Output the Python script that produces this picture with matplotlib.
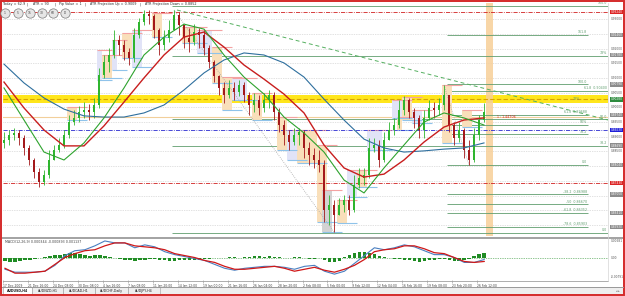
import numpy as np
import matplotlib.pyplot as plt
from matplotlib.patches import Rectangle
from matplotlib.transforms import blended_transform_factory

dates = ["17 Dec 2009", "21 Dec 16:00", "24 Dec 08:00", "30 Dec 08:00", "4 Jan 16:00",
         "7 Jan 08:00", "11 Jan 20:00", "14 Jan 12:00", "19 Jan 00:00", "21 Jan 16:00",
         "26 Jan 04:00", "28 Jan 20:00", "2 Feb 08:00", "5 Feb 00:00", "9 Feb 12:00",
         "12 Feb 04:00", "16 Feb 16:00", "19 Feb 08:00", "23 Feb 20:00", "26 Feb 12:00"]

first_open = 8880
closes = [8889, 8906, 8913, 8896, 8862, 8821, 8780, 8746, 8770, 8821,
          8855, 8872, 8906, 8950, 8964, 8984, 8991, 8984, 9008, 9110,
          9154, 9178, 9229, 9212, 9188, 9168, 9246, 9290, 9317, 9311,
          9263, 9212, 9236, 9263, 9314, 9280, 9236, 9222, 9256, 9246,
          9202, 9154, 9107, 9066, 9042, 9066, 9052, 9076, 9042, 9008,
          9025, 8998, 9025, 9042, 8984, 8940, 8906, 8882, 8906, 8916,
          8862, 8838, 8821, 8804, 8651, 8668, 8634, 8668, 8685, 8651,
          8736, 8760, 8770, 8862, 8872, 8821, 8889, 8923, 8940, 8991,
          9025, 8984, 8964, 8923, 8964, 8998, 8991, 9008, 9042, 8940,
          8896, 8923, 8855, 8821, 8906, 8957, 8984]
highs = [8916, 8923, 8930, 8923, 8906, 8872, 8828, 8794, 8787, 8855,
         8872, 8896, 8923, 8974, 8991, 9005, 9018, 9011, 9032, 9134,
         9178, 9202, 9263, 9246, 9229, 9202, 9270, 9304, 9331, 9331,
         9317, 9270, 9263, 9297, 9331, 9324, 9280, 9270, 9283, 9270,
         9263, 9212, 9161, 9110, 9086, 9093, 9086, 9093, 9086, 9052,
         9049, 9042, 9049, 9059, 9052, 8998, 8957, 8923, 8930, 8930,
         8923, 8882, 8862, 8855, 8821, 8702, 8685, 8692, 8702, 8702,
         8770, 8794, 8794, 8896, 8896, 8889, 8916, 8950, 8964, 9025,
         9039, 9032, 8998, 8974, 8991, 9025, 9018, 9032, 9076, 9042,
         8950, 8950, 8930, 8889, 8930, 8974, 9015]
lows = [8862, 8872, 8889, 8872, 8838, 8804, 8760, 8729, 8736, 8760,
        8821, 8848, 8862, 8896, 8940, 8950, 8964, 8957, 8964, 8998,
        9100, 9120, 9168, 9178, 9161, 9144, 9154, 9236, 9280, 9283,
        9236, 9178, 9195, 9222, 9263, 9246, 9202, 9188, 9212, 9202,
        9178, 9134, 9086, 9042, 9015, 9032, 9025, 9039, 9018, 8974,
        8984, 8974, 8984, 8998, 8957, 8916, 8872, 8855, 8872, 8872,
        8828, 8804, 8794, 8780, 8610, 8600, 8576, 8634, 8644, 8634,
        8644, 8726, 8736, 8760, 8848, 8797, 8814, 8889, 8906, 8930,
        8974, 8964, 8930, 8896, 8896, 8957, 8964, 8974, 8991, 8916,
        8872, 8882, 8828, 8804, 8814, 8889, 8950]

# moyennes mobiles, un point toutes les 4 bougies
ma_red = [9086, 8998, 8923, 8869, 8869, 8937, 9018, 9100, 9178, 9239, 9256, 9205, 9144,
          9096, 9045, 8981, 8872, 8794, 8763, 8773, 8821, 8882, 8933, 8957, 8964]
ma_green = [9066, 8957, 8848, 8821, 8879, 8964, 9066, 9178, 9239, 9283, 9266, 9178, 9103,
            9045, 8967, 8913, 8848, 8753, 8709, 8794, 8872, 8950, 8981, 8964, 8940]
ma_blue = [9147, 9083, 9032, 8994, 8971, 8967, 8967, 8981, 9008, 9059, 9117, 9161, 9185,
           9178, 9151, 9103, 9028, 8957, 8892, 8862, 8848, 8852, 8858, 8862, 8879]

# MACD en 1e-4, un point toutes les 2 bougies (histogramme : chaque bougie)
macd_main = [-48, -60, -60, -60, -56, -32, 8, 28, 32, 48, 68, 60, 60, 40, 52, 44, 24, 12, 4, -4,
             -12, -28, -44, -52, -44, -40, -36, -36, -40, -48, -36, -32, -56, -68, -56, -24, 8,
             40, 32, 40, 52, 44, 28, 12, 12, 0, -20, -20, -8]
macd_signal = [-44, -64, -64, -60, -56, -28, 0, 16, 28, 32, 48, 60, 60, 48, 44, 40, 32, 16, 8, 0,
               -12, -20, -36, -48, -48, -44, -40, -36, -44, -56, -48, -40, -52, -60, -48, -32,
               -8, 24, 32, 36, 48, 48, 36, 20, 16, 0, -16, -20, -16]
macd_hist = [-16, -20, -20, -16, -12, -8, -4, 0, 4, 8, 12, 12, 16, 20, 20, 16, 12, 8, 12, 12,
             8, 4, 0, -4, -8, -12, -16, -12, -8, -4, -4, -8, -12, -16, -16, -12, -12, -8, -12, -8,
             -4, -4, 0, 0, 0, 4, 4, 0, 4, 4, 8, 8, 4, 8, 4, 4, 0, 0, 4, 4,
             0, -4, -4, 0, -12, -20, -20, -16, 4, 12, 20, 24, 24, 20, 16, 8, 4, 0, -4, -4,
             -8, -12, -16, -20, -16, -12, -8, -4, -4, -12, -16, -16, -12, -4, 8, 16, 20]

# niveaux de fibo / lignes horizontales
fib_a = [8573, 8869, 8959, 9175, 9345]
fib_a_txt = ["0.0", "38.2", "50.0", "78%", "100.0"]
fib_b = [8593, 8641, 8671, 8705, 8804, 8909, 8940, 8974, 9079, 9246]
fib_b_txt = ["-78.6  0.85903", "-61.8  0.86352", "-50  0.86670", "-38.2  0.86988", "0.0",
             "38.2", "50%", "61.8  0.89688", "100.0", "161.8"]
fib_c, fib_c_txt = 9056, "61.8  0.90400"
zone_lo, zone_hi, zone_mid = 9015, 9042, 9028
pale_line = 8967
red_lines = [9324, 8743]
blue_line = 8923
trend_x, trend_p = [35.1, 121.3], [9331, 8957]
zigzag = [(34, 66), (88, 93)]

# boîtes de session : bougie début, bougie fin, bas, haut, type
box_start = [20, 24, 30, 36, 42, 44, 50, 55, 59, 63, 67, 71, 79, 80, 88, 92, 13,
             19, 22, 26, 39, 46, 57, 69, 73, 78, 82, 64]
box_end = [21, 25, 31, 38, 43, 45, 51, 56, 62, 64, 68, 72, 79, 81, 89, 93, 14,
           19, 22, 27, 41, 48, 58, 70, 75, 79, 83, 65]
box_low = [9100, 9168, 9239, 9219, 9083, 8991, 8957, 8855, 8811, 8610, 8607, 8729, 8923, 8957, 8879, 8933, 8957,
           9093, 9127, 9137, 9185, 9025, 8821, 8695, 8855, 8964, 8947, 8576]
box_high = [9178, 9253, 9321, 9273, 9205, 9103, 9049, 8967, 8923, 8872, 8685, 8787, 8967, 9035, 9076, 8991, 9001,
            9195, 9229, 9263, 9263, 9100, 8923, 8787, 8923, 9025, 8991, 8719]
box_kind = ["o"] * 17 + ["b"] * 10 + ["g"]

right_boxes = [(9324, "#dc2424"), (9246, "#8c8c8c"), (9178, "#8c8c8c"), (9079, "#8c8c8c"),
               (9028, "#2e8b3e"), (8974, "#8c8c8c"), (8923, "#1f1fd8"), (8869, "#8c8c8c"),
               (8804, "#8c8c8c"), (8743, "#dc2424"), (8705, "#8c8c8c"), (8641, "#8c8c8c"),
               (8593, "#8c8c8c")]

header = [(3, "Today = 62.9"), (27, "|"), (33, "ATR = 90"), (55, "|"), (59, "Pip Value = 1"),
          (85, "|"), (90, "ATR Projection Up = 0.9009"), (140, "|"), (145, "ATR Projection Down = 0.8852")]
buttons = ["1", "5", "15", "30", "60", "D"]
tabs = ["AUDUSD,H4", "AUDNZD,H1", "AUDCAD,H1", "AUDCHF,Daily", "AUDJPY,H4"]


def P(v):
    return np.asarray(v, dtype=float) / 10000


W, H = 625, 296
fig = plt.figure(figsize=(W / 100, H / 100), dpi=100)
fig.patch.set_facecolor("white")

ax = fig.add_axes([3 / W, 1 - 236 / H, 605 / W, 233 / H])
am = fig.add_axes([3 / W, 1 - 280 / H, 605 / W, 41 / H])
for a in (ax, am):
    a.set_xlim(0.3, 121.3)
    for s in a.spines.values():
        s.set_visible(False)
    a.set_facecolor("white")
ax.set_ylim(0.85626, 0.93548)
am.set_ylim(-0.0092, 0.0076)
ax.set_xticks([])
ax.set_yticks([])
am.set_yticks([])

fs = 2.3
GREEN_FIB = "#5f9d6e"
grid_levels = np.arange(8600, 9301, 50)

# grille pointillée
for g in grid_levels:
    ax.axhline(g / 1e4, color="#c4c4c4", lw=0.5, ls=(0, (1, 1.5)), zorder=0)

# zone jaune + lignes horizontales
ax.axhspan(zone_lo / 1e4, zone_hi / 1e4, color="#ffe61c", zorder=1, lw=0)
ax.axhline(zone_mid / 1e4, color="#d9a400", lw=0.8, ls=(0, (4, 2)), zorder=1.5)
ax.axhline(pale_line / 1e4, color="#f2cf9a", lw=0.8, zorder=1)
for r in red_lines:
    ax.axhline(r / 1e4, color="#d02020", lw=0.6, ls=(0, (5, 1.5, 1, 1.5)), zorder=3)
ax.axhline(blue_line / 1e4, color="#2a2ad0", lw=0.6, ls=(0, (5, 1.5, 1, 1.5)), zorder=3)

# bande orange verticale
ax.axvspan(96.9, 98.3, color="#f7cf98", alpha=0.85, zorder=1, lw=0)

# fibo
ax.hlines(P(fib_a), 34.1, 121.3, color=GREEN_FIB, lw=0.6, zorder=2)
for v, t in zip(fib_a, fib_a_txt):
    ax.text(121.1, v / 1e4 + 0.0002, t, fontsize=fs, color=GREEN_FIB, ha="right", va="bottom", zorder=6)
ax.hlines(P(fib_b), 89.1, 117.3, color=GREEN_FIB, lw=0.6, zorder=2)
for v, t in zip(fib_b, fib_b_txt):
    ax.text(117.1, v / 1e4 + 0.0002, t, fontsize=fs, color=GREEN_FIB, ha="right", va="bottom", zorder=6)
ax.hlines(fib_c / 1e4, 89.1, 121.3, color=GREEN_FIB, lw=0.6, zorder=2)
ax.text(121.1, fib_c / 1e4 + 0.0002, fib_c_txt, fontsize=fs, color=GREEN_FIB, ha="right", va="bottom", zorder=6)
ax.text(115.8, zone_mid / 1e4, "78%", fontsize=fs, color=GREEN_FIB, ha="right", va="center", zorder=6)

# boîtes
kcol = {"o": "#f9dfba", "b": "#e1e3f7", "g": "#d3d3d3"}
for s, e, lo, hi, k in zip(box_start, box_end, box_low, box_high, box_kind):
    ax.add_patch(Rectangle((s, lo / 1e4), e + 1 - s, (hi - lo) / 1e4, fc=kcol[k], ec="none", zorder=2))
    ax.hlines(hi / 1e4, s, e + 3, color="#f4a2a2", lw=0.8, zorder=2.5)
    ax.hlines(lo / 1e4, s, e + 3, color="#8fc3ea", lw=0.8, zorder=2.5)

# bougies
x = np.arange(len(closes)) + 0.5
c, h, l = P(closes), P(highs), P(lows)
o = np.r_[first_open / 1e4, c[:-1]]
col = np.where(c >= o, "#2fb52f", "#a3191b")
ax.vlines(x, np.minimum(l, np.minimum(o, c)), np.maximum(h, np.maximum(o, c)), colors=col, lw=0.6, zorder=4)
ax.bar(x, c - o, bottom=o, width=0.55, color=col, lw=0, zorder=5)

# zigzag et ligne de tendance
for i0, i1 in zigzag:
    ax.plot([i0 + 0.5, i1 + 0.5], [h[i0], l[i1]], color="#a8a8a8", lw=0.6, ls=(0, (1, 1.5)), zorder=3)
ax.plot(trend_x, P(trend_p), color="#55b060", lw=0.7, ls=(0, (4, 3)), zorder=3)

# moyennes mobiles
xm = np.arange(0, len(closes), 4) + 0.5
ax.plot(xm, P(ma_blue), color="#2e6f9e", lw=0.8, zorder=6)
ax.plot(xm, P(ma_red), color="#c81e1e", lw=1.0, zorder=6)
ax.plot(xm, P(ma_green), color="#2ea32e", lw=0.8, zorder=6)

ax.text(99.1, pale_line / 1e4, "1 : 1.44706", fontsize=fs, color="#d02020", ha="left", va="center", zorder=7)

# échelle de prix à droite (on saute les niveaux cachés par une étiquette colorée)
tr = blended_transform_factory(ax.transAxes, ax.transData)
box_prices = np.array([v for v, _ in right_boxes])
for g in grid_levels:
    if np.min(np.abs(box_prices - g)) < 14:
        continue
    ax.text(1.004, g / 1e4, f"{g / 1e4:.5f}", transform=tr, fontsize=2.1, color="#555555",
            va="center", ha="left", clip_on=False)
for v, fc in right_boxes:
    ax.text(1.004, v / 1e4, f"{v / 1e4:.5f}", transform=tr, fontsize=2.1, color="white",
            va="center", ha="left", clip_on=False,
            bbox=dict(boxstyle="square,pad=0.15", fc=fc, ec="none"))

# MACD
xh = np.arange(len(macd_hist)) + 0.5
am.bar(xh, np.asarray(macd_hist) * 1e-4, width=0.7, color="#1f8c23", lw=0, zorder=2)
am.axhline(0, color="#1f8c23", lw=0.5, ls=(0, (1, 1.5)), zorder=1)
xd = np.arange(0, len(closes), 2) + 0.5
am.plot(xd, np.asarray(macd_main) * 1e-4, color="#4a7fc0", lw=0.8, zorder=3)
am.plot(xd, np.asarray(macd_signal) * 1e-4, color="#d01818", lw=0.9, zorder=4)
am.text(0.003, 0.97, "MACD(12,26,9) 0.000344 -0.000893 0.001137", transform=am.transAxes,
        fontsize=fs, color="#404040", va="top", ha="left")
trm = blended_transform_factory(am.transAxes, am.transData)
for v, t in [(0.0068, "0.00681"), (0.0, "0.00"), (-0.0079, "-0.00791")]:
    am.text(1.004, v, t, transform=trm, fontsize=2.1, color="#555555", va="center", ha="left", clip_on=False)

am.set_xticks([5 * k + 0.1 for k in range(len(dates))])
am.set_xticklabels(dates, fontsize=2.2, color="#404040", ha="left")
am.tick_params(axis="x", length=2, width=0.4, color="#909090", pad=0.8)

# habillage de la fenêtre, en pixels
ov = fig.add_axes([0, 0, 1, 1])
ov.set_xlim(0, W)
ov.set_ylim(H, 0)
ov.axis("off")
ov.patch.set_alpha(0)

ov.add_patch(Rectangle((2, 236.5), 621, 2.2, fc="#a4a4a4", ec="none"))
ov.plot([3, 608], [280.5, 280.5], color="#a0a0a0", lw=0.6)
ov.plot([608, 608], [3, 280.5], color="#d4d4d4", lw=0.5)
ov.add_patch(Rectangle((2, 286.5), 621, 8, fc="#eeeeee", ec="none"))
ov.plot([2, 623], [286.5, 286.5], color="#999999", lw=0.7)

tx = [3, 32, 63, 95, 128, 160]
for k, t in enumerate(tabs):
    ov.add_patch(Rectangle((tx[k], 287), tx[k + 1] - tx[k], 7,
                           fc="white" if k == 0 else "#eeeeee", ec="#9a9a9a", lw=0.4))
    ov.text((tx[k] + tx[k + 1]) / 2, 290.8, t, fontsize=2.3, color="#202020",
            ha="center", va="center", fontweight="bold" if k == 0 else "normal")
ov.text(620, 291, "◂ ▸", fontsize=2, color="#606060", ha="right", va="center")

for px, t in header:
    ov.text(px, 4.2, t, fontsize=2.4, color="#303030", ha="left", va="center")
bx = [5, 18, 30, 42, 53, 65]
ov.scatter(bx, [13] * len(bx), s=45, fc="#e6e6e6", ec="#7a7a7a", lw=0.5, zorder=5)
for px, t in zip(bx, buttons):
    ov.text(px, 13.2, t, fontsize=2.2, color="#404040", ha="center", va="center", zorder=6)

ov.add_patch(Rectangle((0.8, 0.8), W - 1.6, H - 1.6, fill=False, ec="#d42a2a", lw=1.4))

fig.savefig("out.png", dpi=100, facecolor="white")
